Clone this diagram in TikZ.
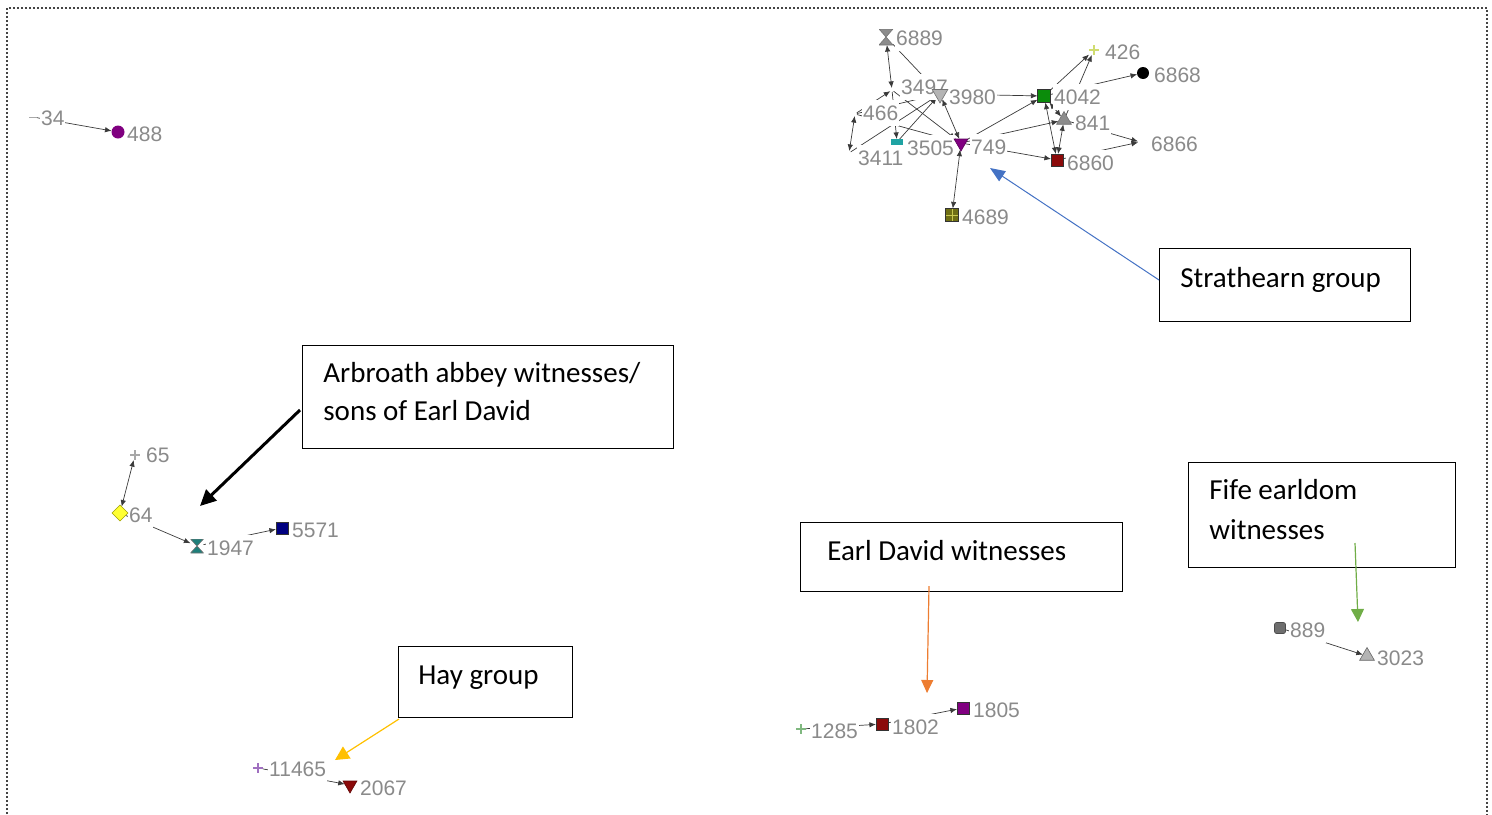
\documentclass[tikz,border=0pt]{standalone}
\usepackage{fontspec}
\setmainfont{Carlito}
\newfontfamily\lblfont{Liberation Sans}
\usetikzlibrary{shapes.geometric,arrows.meta}

\definecolor{labelgrey}{HTML}{8A8A8A}
\definecolor{edgegrey}{HTML}{3A3A3A}
\definecolor{cpurple}{HTML}{800080}
\definecolor{cgreen}{HTML}{0B8C0B}
\definecolor{cdarkred}{HTML}{8B0A0A}
\definecolor{cteal}{HTML}{1E7F7A}
\definecolor{cteallight}{HTML}{1FA3A3}
\definecolor{colive}{HTML}{6E6E14}
\definecolor{cgridline}{HTML}{C8C850}
\definecolor{cnavy}{HTML}{000080}
\definecolor{cyellow}{HTML}{FFFF33}
\definecolor{cyellowrim}{HTML}{A0A000}
\definecolor{cgrey}{HTML}{8C8C8C}
\definecolor{clightgrey}{HTML}{B4B4B4}
\definecolor{cdarkgrey}{HTML}{6E6E6E}
\definecolor{plusyellow}{HTML}{D0DC70}
\definecolor{plusgrey}{HTML}{A8A8A8}
\definecolor{pluspurple}{HTML}{A070C0}
\definecolor{plusgreen}{HTML}{80B880}
\definecolor{calblue}{HTML}{4472C4}
\definecolor{calgreen}{HTML}{70AD47}
\definecolor{calorange}{HTML}{ED7D31}
\definecolor{calgold}{HTML}{FFC000}
\definecolor{framegrey}{HTML}{444444}

\pgfdeclarelayer{edgelayer}
\pgfdeclarelayer{labellayer}
\pgfsetlayers{edgelayer,labellayer,main}

\begin{document}
\begin{tikzpicture}[x=0.5pt,y=-0.5pt,
  >={Latex[length=3.3pt,width=2.7pt]},
  sym/.style={inner sep=0pt, outer sep=0pt, line width=0.3pt},
  sqnode/.style={sym, rectangle, draw=black!80, minimum size=6pt},
  dotnode/.style={sym, circle, minimum size=6.5pt},
  upnode/.style={sym, regular polygon, regular polygon sides=3, minimum size=9pt, draw=black!55},
  dnnode/.style={upnode, shape border rotate=180},
  hgnode/.style={sym, rectangle, minimum width=7pt, minimum height=8pt,
    path picture={\fill[#1, draw=black!55, line width=0.3pt]
      (path picture bounding box.north west) -- (path picture bounding box.north east) --
      (path picture bounding box.south west) -- (path picture bounding box.south east) -- cycle;}},
  plusnode/.style={sym, rectangle, minimum size=5pt,
    path picture={\draw[#1, line width=0.6pt]
      (path picture bounding box.north) -- (path picture bounding box.south)
      (path picture bounding box.west) -- (path picture bounding box.east);}},
  dashnode/.style={sym, rectangle, minimum width=4pt, minimum height=1pt,
    path picture={\draw[#1, line width=0.5pt]
      (path picture bounding box.west) -- (path picture bounding box.east);}},
  hidnode/.style={sym, circle, minimum size=2pt},
  lbl/.style={font=\lblfont\fontsize{10.5}{12}\selectfont, text=labelgrey, fill=white,
    inner sep=0.4pt, text height=9.5pt, text depth=2.5pt, anchor=base west},
  link/.style={draw=edgegrey, line width=0.35pt},
  box/.style={draw=black, line width=0.5pt, fill=white, anchor=north west, inner sep=0pt},
  ctext/.style={font=\fontsize{14.5}{19}\selectfont, anchor=base west, inner sep=0pt},
  frame/.style={draw=framegrey, line width=0.7pt, dash pattern=on 0.8pt off 1.2pt}
]
\useasboundingbox (0,0) rectangle (1492,814);

% dotted page frame (open at the bottom)
\draw[frame] (7,818) -- (7,8) -- (1487,8) -- (1487,818);

% ---------- actors ----------
% isolated pair
\node[dashnode=plusgrey] (n34) at (33,117) {};
\node[dotnode, fill=cpurple] (n488) at (118,132) {};

% Strathearn cluster
\node[hgnode=cgrey] (n6889) at (886,37) {};
\node[hidnode] (n3497) at (892,90) {};
\node[dnnode, fill=clightgrey] (n3980) at (940,94) {};
\node[hidnode] (n466) at (855,114) {};
\node[hidnode] (n3411) at (849,153) {};
\node[sym, rectangle, fill=cteallight, minimum width=6pt, minimum height=3pt] (n3505) at (897,142) {};
\node[dnnode, fill=cpurple, draw=cpurple!70!black, minimum size=8pt] (n749) at (961,143) {};
\node[sqnode, fill=colive, minimum size=6.5pt,
  path picture={\draw[cgridline, line width=0.4pt]
    (path picture bounding box.north) -- (path picture bounding box.south)
    (path picture bounding box.west) -- (path picture bounding box.east);}] (n4689) at (952,215) {};
\node[sqnode, fill=cgreen, minimum size=6.5pt] (n4042) at (1044,96) {};
\node[plusnode=plusyellow] (n426) at (1094,50) {};
\node[dotnode, fill=black, minimum size=6pt] (n6868) at (1143,73) {};
\node[upnode, fill=cgrey, minimum size=8.5pt] (n841) at (1064,120) {};
\node[hidnode] (n6866) at (1140,142) {};
\node[sqnode, fill=cdarkred] (n6860) at (1057,160) {};

% Arbroath group
\node[plusnode=plusgrey] (n65) at (135,455) {};
\node[sym, diamond, fill=cyellow, draw=cyellowrim, minimum size=8pt] (n64) at (120,513) {};
\node[hgnode=cteal, minimum width=6.5pt, minimum height=7pt] (n1947) at (197,546) {};
\node[sqnode, fill=cnavy] (n5571) at (282,528) {};

% Hay group
\node[plusnode=pluspurple] (n11465) at (258,768) {};
\node[dnnode, fill=cdarkred, draw=cdarkred!70!black, minimum size=8pt] (n2067) at (350,785) {};

% Earl David group
\node[plusnode=plusgreen] (n1285) at (801,729) {};
\node[sqnode, fill=cdarkred] (n1802) at (882,724) {};
\node[sqnode, fill=cpurple] (n1805) at (963,708) {};

% Fife group
\node[sqnode, fill=cdarkgrey, draw=black!70, rounded corners=1pt, minimum size=5.5pt] (n889) at (1280,628) {};
\node[upnode, fill=clightgrey, draw=black!60, minimum size=8.5pt] (n3023) at (1367,656) {};

% ---------- ties ----------
\begin{pgfonlayer}{edgelayer}
\draw[link, ->] (n34) -- (n488);

\draw[link, <->] (n6889) -- (n3497);
\draw[link, ->] (n6889) -- (n3980);
\draw[link, ->] (n466) -- (n3497);
\draw[link, <->] (n466) -- (n3411);
\draw[link, ->] (n466) -- (n3980);
\draw[link, ->] (n466) -- (n749);
\draw[link, ->] (n3411) -- (n3980);
\draw[link, ->] (n3505) -- (n3980);
\draw[link, ->] (n3497) -- (n3505);
\draw[link, ->] (n3497) -- (n749);
\draw[link, <->] (n3980) -- (n749);
\draw[link, <->] (n749) -- (n4689);
\draw[link, ->] (n3980) -- (n4042);
\draw[link, ->] (n749) -- (n4042);
\draw[link, ->] (n749) -- (n841);
\draw[link, ->] (n749) -- (n6860);
\draw[link, ->] (n4042) -- (n426);
\draw[link, ->] (n841) -- (n426);
\draw[link, ->] (n4042) -- (n6868);
\draw[link, <->] (n4042) -- (n841);
\draw[link, <->] (n4042) -- (n6860);
\draw[link, <->] (n841) -- (n6860);
\draw[link, ->] (n841) -- (n6866);
\draw[link, ->] (n6860) -- (n6866);

\draw[link, <->] (n65) -- (n64);
\draw[link, ->] (n64) -- (n1947);
\draw[link, ->] (n1947) -- (n5571);

\draw[link, ->] (n11465) -- (n2067);

\draw[link, ->] (n1285) -- (n1802);
\draw[link, ->] (n1802) -- (n1805);

\draw[link, ->] (n889) -- (n3023);
\end{pgfonlayer}

% ---------- actor labels ----------
\begin{pgfonlayer}{labellayer}
\node[lbl] (l34) at (40,125) {34};
\node[lbl] (l488) at (126,141) {488};
\node[lbl] (l6889) at (895,45) {6889};
\node[lbl] (l3497) at (900,94) {3497};
\node[lbl] (l3980) at (948,104) {3980};
\node[lbl] (l466) at (862,120) {466};
\node[lbl] (l3411) at (857,165) {3411};
\node[lbl] (l3505) at (906,155) {3505};
\node[lbl] (l749) at (970,154) {749};
\node[lbl] (l4689) at (961,224) {4689};
\node[lbl] (l4042) at (1053,104) {4042};
\node[lbl] (l426) at (1104,59) {426};
\node[lbl] (l6868) at (1153,82) {6868};
\node[lbl] (l841) at (1074,130) {841};
\node[lbl] (l6866) at (1150,151) {6866};
\node[lbl] (l6860) at (1066,170) {6860};
\node[lbl] (l65) at (145,462) {65};
\node[lbl] (l64) at (128,522) {64};
\node[lbl] (l1947) at (206,555) {1947};
\node[lbl] (l5571) at (291,537) {5571};
\node[lbl] (l11465) at (268,776) {11465};
\node[lbl] (l2067) at (359,795) {2067};
\node[lbl] (l1285) at (810,738) {1285};
\node[lbl] (l1802) at (891,734) {1802};
\node[lbl] (l1805) at (972,717) {1805};
\node[lbl] (l889) at (1289,637) {889};
\node[lbl] (l3023) at (1376,665) {3023};
\end{pgfonlayer}

% ---------- callouts ----------
\node[box, minimum width=125.5pt, minimum height=36.5pt] (bStrath) at (1159,248) {};
\node[ctext] (tStrath) at (1180,287) {Strathearn group};

\node[box, minimum width=185.5pt, minimum height=51.5pt] (bArb) at (302,345) {};
\node[ctext] (tArbA) at (323,382) {Arbroath abbey witnesses/};
\node[ctext] (tArbB) at (323,420) {sons of Earl David};

\node[box, minimum width=133.5pt, minimum height=52.5pt] (bFife) at (1188,462) {};
\node[ctext] (tFifeA) at (1209,499) {Fife earldom};
\node[ctext] (tFifeB) at (1209,539) {witnesses};

\node[box, minimum width=161pt, minimum height=34.5pt] (bDavid) at (800,522) {};
\node[ctext] (tDavid) at (827,560) {Earl David witnesses};

\node[box, minimum width=87pt, minimum height=35.5pt] (bHay) at (398,646) {};
\node[ctext] (tHay) at (418,684) {Hay group};

% callout pointers
\coordinate (pStrathA) at (1159,280);
\coordinate (pStrathB) at (990,168);
\draw[calblue, line width=0.5pt, -{Triangle[length=7.5pt,width=6pt]}] (pStrathA) -- (pStrathB);

\coordinate (pArbA) at (300,410);
\coordinate (pArbB) at (200,506);
\draw[black, line width=1.5pt, -{Triangle[length=8pt,width=7.5pt]}] (pArbA) -- (pArbB);

\coordinate (pFifeA) at (1355,543);
\coordinate (pFifeB) at (1358,622);
\draw[calgreen, line width=0.6pt, -{Triangle[length=6.5pt,width=6.5pt]}] (pFifeA) -- (pFifeB);

\coordinate (pDavidA) at (929,586);
\coordinate (pDavidB) at (927,693);
\draw[calorange, line width=0.6pt, -{Triangle[length=6.5pt,width=6pt]}] (pDavidA) -- (pDavidB);

\coordinate (pHayA) at (399,719);
\coordinate (pHayB) at (335,760);
\draw[calgold, line width=0.6pt, -{Triangle[length=7pt,width=7pt]}] (pHayA) -- (pHayB);
\end{tikzpicture}
\end{document}
